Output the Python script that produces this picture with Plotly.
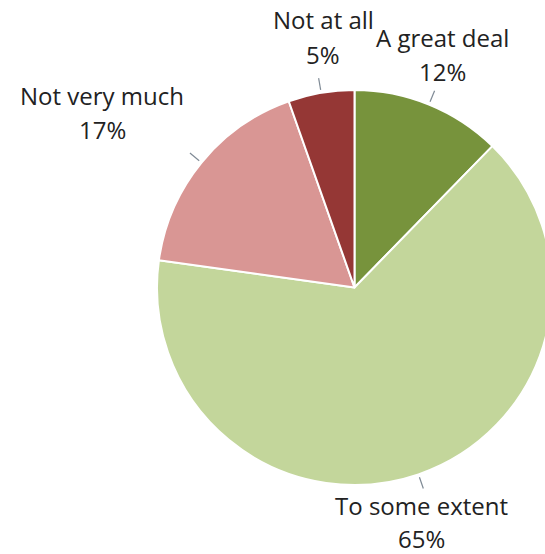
import math
import plotly.graph_objects as go

categories = ["A great deal", "To some extent", "Not very much", "Not at all"]
values = [12.3, 64.9, 17.4, 5.4]          # slice sizes as drawn
value_labels = ["12%", "65%", "17%", "5%"]  # rounded labels shown
colors = ["#77933C", "#C3D69B", "#D99694", "#953735"]

# label placement (pixel centres of the two text lines), layout only
label_pos = {
    "A great deal": (442, 38, 72),
    "To some extent": (421, 505, 538),
    "Not very much": (102, 95, 129),
    "Not at all": (323, 19, 54),
}

W, H = 560, 554
cx, cy, r = 354.5, 287.5, 197.5

fig = go.Figure(go.Pie(
    labels=categories,
    values=values,
    marker=dict(colors=colors, line=dict(color="#FFFFFF", width=2)),
    sort=False,
    direction="clockwise",
    rotation=0,
    textinfo="none",
    hoverinfo="label+percent",
    showlegend=False,
    domain=dict(x=[(cx - r) / W, (cx + r) / W], y=[(H - cy - r) / H, (H - cy + r) / H]),
))

total = sum(values)
cum = 0.0
shapes = []
annotations = []
for cat, v, vl in zip(categories, values, value_labels):
    mid = (cum + v / 2) / total * 2 * math.pi
    cum += v
    dx, dy = math.sin(mid), -math.cos(mid)
    x0, y0 = cx + (r + 3) * dx, cy + (r + 3) * dy
    x1, y1 = cx + (r + 15) * dx, cy + (r + 15) * dy
    shapes.append(dict(type="line", xref="paper", yref="paper",
                       x0=x0 / W, y0=1 - y0 / H, x1=x1 / W, y1=1 - y1 / H,
                       line=dict(color="#7F8A95", width=1.2)))
    lx, ly1, ly2 = label_pos[cat]
    for txt, ly in ((cat, ly1), (vl, ly2)):
        annotations.append(dict(text=txt, xref="paper", yref="paper",
                                x=lx / W, y=1 - ly / H, showarrow=False,
                                xanchor="center", yanchor="middle",
                                font=dict(family="Open Sans", size=24, color="#222222")))

fig.update_layout(
    width=W, height=H,
    margin=dict(l=0, r=0, t=0, b=0),
    paper_bgcolor="#FFFFFF",
    plot_bgcolor="#FFFFFF",
    shapes=shapes,
    annotations=annotations,
)

fig.write_html("out.html", config={"displayModeBar": False},
               post_script="document.body.style.margin='0';document.body.style.overflow='hidden';")
